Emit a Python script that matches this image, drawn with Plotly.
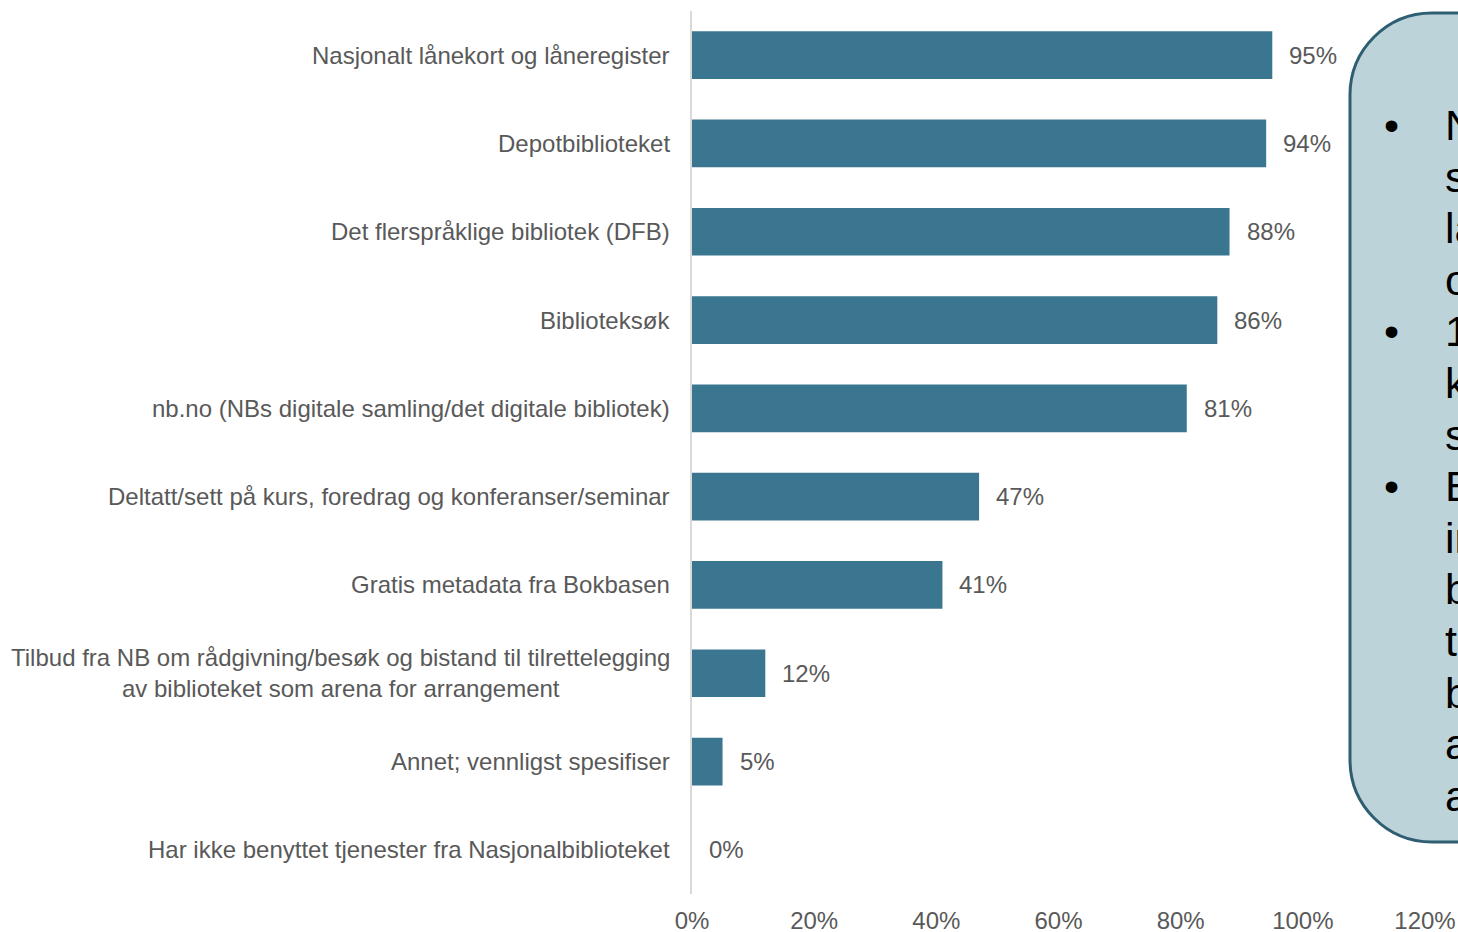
import plotly.graph_objects as go

categories = [
    "Nasjonalt lånekort og låneregister",
    "Depotbiblioteket",
    "Det flerspråklige bibliotek (DFB)",
    "Biblioteksøk",
    "nb.no (NBs digitale samling/det digitale bibliotek)",
    "Deltatt/sett på kurs, foredrag og konferanser/seminar",
    "Gratis metadata fra Bokbasen",
    "Tilbud fra NB om rådgivning/besøk og bistand til tilrettelegging<br>av biblioteket som arena for arrangement",
    "Annet; vennligst spesifiser",
    "Har ikke benyttet tjenester fra Nasjonalbiblioteket",
]
values = [95, 94, 88, 86, 81, 47, 41, 12, 5, 0]
x_ticks = [0, 20, 40, 60, 80, 100, 120]
x_tick_labels = ["0%", "20%", "40%", "60%", "80%", "100%", "120%"]

# text of the (cropped) callout box on the right
box_bullets = [
    ["Nesten alle", "svarer at de", "landets", "og"],
    ["12 prosent", "kjenner", "seg"],
    ["En", "interesse", "bibliotek", "til", "biblioteket", "arena", "arrangement"],
]

W, H = 1458, 932
ML, MR, MT, MB = 692, 33, 11, 38
PW, PH = W - ML - MR, H - MT - MB

def px(x):
    return (x - ML) / PW

def py(y):
    return (H - MB - y) / PH

BAR = "#3B7691"
TXT = "#595959"
FONT = "Liberation Sans, Arial, sans-serif"
FS = 24

fig = go.Figure()
fig.add_trace(go.Bar(
    x=values, y=categories, orientation="h",
    marker=dict(color=BAR, line=dict(width=0)),
    hoverinfo="skip",
))

annotations = []
for c, v in zip(categories, values):
    annotations.append(dict(
        x=0, y=c, xref="x", yref="y", text=c, showarrow=False,
        xanchor="right", yanchor="middle", align="center", xshift=-20,
        font=dict(family=FONT, size=FS, color=TXT),
    ))
    annotations.append(dict(
        x=v, y=c, xref="x", yref="y", text=f"{v}%", showarrow=False,
        xanchor="left", yanchor="middle", xshift=15,
        font=dict(family=FONT, size=FS, color=TXT),
    ))

# callout box (rounded rectangle, cut by the right edge)
L, T, B, R, r = 1350, 13, 842, 1800, 82
k = 0.5523 * r
def P(x, y):
    return f"{px(x):.5f},{py(y):.5f}"
path = (
    f"M {P(L, T + r)} C {P(L, T + r - k)} {P(L + r - k, T)} {P(L + r, T)} "
    f"L {P(R, T)} L {P(R, B)} L {P(L + r, B)} "
    f"C {P(L + r - k, B)} {P(L, B - r + k)} {P(L, B - r)} Z"
)
shapes = [dict(
    type="path", xref="paper", yref="paper", path=path,
    fillcolor="#BDD3DA", line=dict(color="#2E5E72", width=3), layer="above",
)]

line_gap = 51.6
y0 = 125
i = 0
for para in box_bullets:
    for j, line in enumerate(para):
        yy = y0 + i * line_gap
        if j == 0:
            annotations.append(dict(
                x=px(1391), y=py(yy), xref="paper", yref="paper", text="•",
                showarrow=False, xanchor="center", yanchor="middle",
                font=dict(family=FONT, size=43, color="#000000"),
            ))
        annotations.append(dict(
            x=px(1443), y=py(yy), xref="paper", yref="paper", text=line,
            showarrow=False, xanchor="left", yanchor="middle",
            font=dict(family=FONT, size=43, color="#000000"),
        ))
        i += 1

fig.update_layout(
    width=W, height=H,
    margin=dict(l=ML, r=MR, t=MT, b=MB, autoexpand=False),
    paper_bgcolor="white", plot_bgcolor="white",
    showlegend=False, bargap=0.46,
    xaxis=dict(
        range=[0, 120], tickvals=x_ticks, ticktext=x_tick_labels,
        showgrid=False, zeroline=False, showline=False, ticks="",
        tickfont=dict(family=FONT, size=FS, color=TXT),
        ticklabelstandoff=10, fixedrange=True,
    ),
    yaxis=dict(
        autorange="reversed", showticklabels=False, showgrid=False,
        zeroline=False, showline=True, linecolor="#D9D9D9", linewidth=2,
        ticks="", fixedrange=True,
    ),
    annotations=annotations, shapes=shapes,
)

fig.write_html(
    "out.html",
    config={"displayModeBar": False},
    post_script="document.body.style.margin='0';document.body.style.overflow='hidden';",
)
